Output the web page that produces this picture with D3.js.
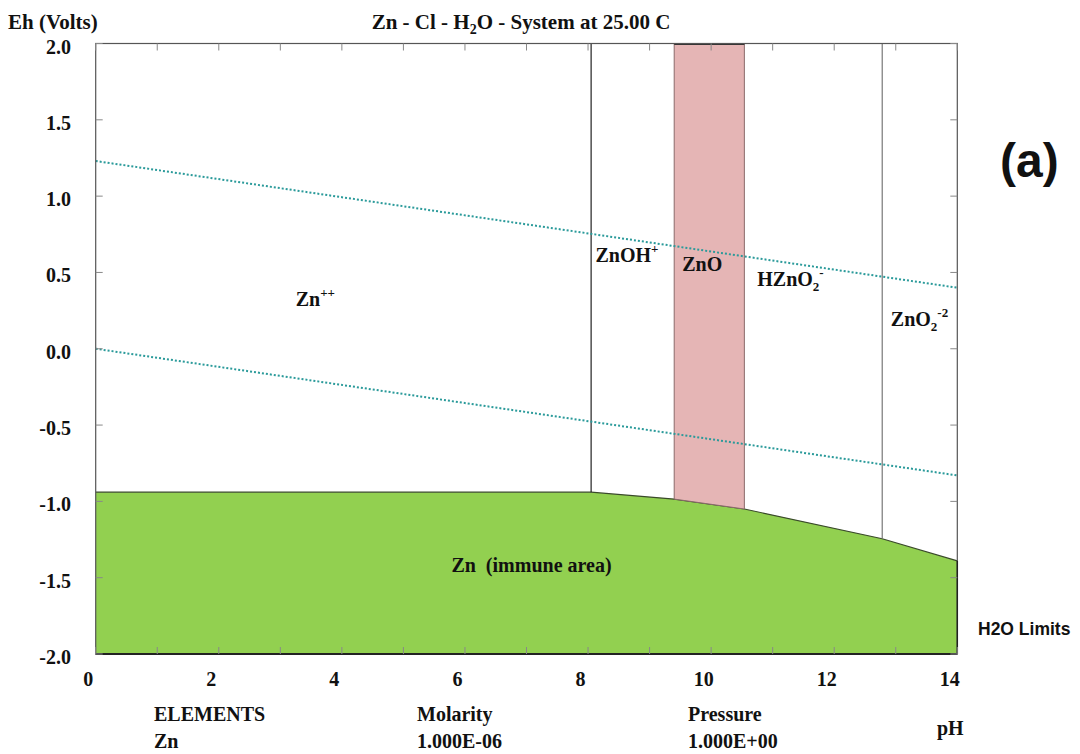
<!DOCTYPE html>
<html><head><meta charset="utf-8">
<script src="https://cdn.jsdelivr.net/npm/d3@7"></script>
<style>
body{margin:0;background:#fff;}
text{font-family:"Liberation Serif","Times New Roman",serif;font-weight:bold;fill:#111;}
</style></head>
<body><svg id="c" width="1080" height="754"></svg>
<script>
// ---- data ----
const xTickValues = [0,1,2,3,4,5,6,7,8,9,10,11,12,13,14];
const xTickLabels = [0,2,4,6,8,10,12,14];
const yTickValues = [2.0,1.5,1.0,0.5,0.0,-0.5,-1.0,-1.5,-2.0];
const immuneBoundary = [[0,-0.94],[8.05,-0.94],[9.40,-0.985],[10.54,-1.05],[12.78,-1.245],[14,-1.39]];
const boundaryLines = [8.05, 12.78];
const znoRange = [9.40, 10.54];
const waterUpper = [[0,1.23],[14,0.40]];
const waterLower = [[0,0.0],[14,-0.83]];
const regionLabels = [
  {x:3.25, y:0.28, base:"Zn", sup:"++"},
  {x:8.12, y:0.57, base:"ZnOH", sup:"+"},
  {x:9.53, y:0.51, base:"ZnO"},
  {x:10.75, y:0.41, base:"HZnO", sub:"2", sup:"-"},
  {x:12.92, y:0.15, base:"ZnO", sub:"2", sup:"-2"},
  {x:5.78, y:-1.46, base:"Zn\u00a0\u00a0(immune area)"}
];
const footerHeads = ["ELEMENTS","Molarity","Pressure"];
const footerVals = ["Zn","1.000E-06","1.000E+00"];

// ---- layout ----
const svg = d3.select("#c");
const L=95.7, R=957.3, T=43.5, B=654;
const x = d3.scaleLinear().domain([0,14]).range([L,R]);
const y = d3.scaleLinear().domain([-2,2]).range([B,T]);

// green immune area
const area = d3.area().x(d=>x(d[0])).y0(y(-2)).y1(d=>y(d[1]));
svg.append("path").datum(immuneBoundary).attr("d",area).attr("fill","#92d050");
svg.append("path").datum(immuneBoundary).attr("d",d3.line().x(d=>x(d[0])).y(d=>y(d[1])))
  .attr("fill","none").attr("stroke","#3a4a2a").attr("stroke-width",1.2);

function eb(p){for(let i=1;i<immuneBoundary.length;i++){const a=immuneBoundary[i-1],b=immuneBoundary[i];if(p<=b[0])return a[1]+(b[1]-a[1])*(p-a[0])/(b[0]-a[0]);}return immuneBoundary[immuneBoundary.length-1][1];}

// ZnO region
const zp=[[znoRange[0],2],[znoRange[1],2],[znoRange[1],eb(znoRange[1])],[znoRange[0],eb(znoRange[0])]];
svg.append("path").attr("d",d3.line().x(d=>x(d[0])).y(d=>y(d[1]))(zp)+"Z")
  .attr("fill","#e5b5b5").attr("stroke","#8a6a6a").attr("stroke-width",1);
svg.append("line").attr("x1",x(znoRange[0])).attr("x2",x(znoRange[1])).attr("y1",y(2)+0.5).attr("y2",y(2)+0.5)
  .attr("stroke","#333").attr("stroke-width",2);

// vertical boundaries
boundaryLines.forEach((p,i)=>{
  svg.append("line").attr("x1",x(p)).attr("x2",x(p)).attr("y1",y(2)).attr("y2",y(eb(p)))
    .attr("stroke",i===0?"#222":"#777").attr("stroke-width",1.2);
});

// water lines
[waterUpper,waterLower].forEach(w=>{
  svg.append("path").datum(w).attr("d",d3.line().x(d=>x(d[0])).y(d=>y(d[1])))
    .attr("fill","none").attr("stroke","#2a9a9a").attr("stroke-width",2).attr("stroke-dasharray","2,2");
});

// frame
svg.append("rect").attr("x",L).attr("y",T).attr("width",R-L).attr("height",B-T)
  .attr("fill","none").attr("stroke","#555").attr("stroke-width",1.2);
svg.append("line").attr("x1",L).attr("x2",R).attr("y1",B).attr("y2",B).attr("stroke","#222").attr("stroke-width",2);
svg.append("line").attr("x1",R).attr("x2",R).attr("y1",y(eb(14))).attr("y2",B).attr("stroke","#222").attr("stroke-width",1.5);

// ticks inward on all sides
const tk=7;
const ax=svg.append("g").attr("stroke","#888").attr("stroke-width",1);
xTickValues.forEach(v=>{
  ax.append("line").attr("x1",x(v)).attr("x2",x(v)).attr("y1",T).attr("y2",T+tk);
  ax.append("line").attr("x1",x(v)).attr("x2",x(v)).attr("y1",B).attr("y2",B-tk);
});
yTickValues.forEach(v=>{
  ax.append("line").attr("x1",L).attr("x2",L+tk).attr("y1",y(v)).attr("y2",y(v));
  ax.append("line").attr("x1",R).attr("x2",R-tk).attr("y1",y(v)).attr("y2",y(v));
});

// tick labels
svg.append("g").selectAll("text").data(xTickLabels).join("text")
  .attr("x",d=>x(d)-7.5).attr("y",B+32).attr("text-anchor","middle").attr("font-size",20).text(d=>d);
svg.append("g").selectAll("text").data(yTickValues).join("text")
  .attr("x",71).attr("y",d=>y(d)+10).attr("text-anchor","end").attr("font-size",20).text(d=>d.toFixed(1));

// axis titles
svg.append("text").attr("x",8).attr("y",29).attr("font-size",21).text("Eh (Volts)");
const tt=svg.append("text").attr("x",521).attr("y",29).attr("text-anchor","middle").attr("font-size",21);
tt.append("tspan").text("Zn - Cl - H");
tt.append("tspan").attr("font-size",14).attr("dy",5).text("2");
tt.append("tspan").attr("dy",-5).text("O - System at 25.00 C");

// region labels
regionLabels.forEach(r=>{
  const t=svg.append("text").attr("x",x(r.x)).attr("y",y(r.y)).attr("font-size",20);
  t.append("tspan").text(r.base);
  let dy=0;
  if(r.sub){t.append("tspan").attr("font-size",13).attr("dy",5).text(r.sub);dy=5;}
  if(r.sup){t.append("tspan").attr("font-size",13).attr("dy",-9-dy).text(r.sup);}
});

// (a) and H2O limits
svg.append("text").attr("x",1000).attr("y",177).style("font-family","'Liberation Sans',Arial,sans-serif")
  .attr("font-size",48).text("(a)");
svg.append("text").attr("x",978).attr("y",635).style("font-family","'Liberation Sans',Arial,sans-serif")
  .attr("font-size",17.5).text("H2O Limits");

// footer
const fx=[154,417,688];
footerHeads.forEach((h,i)=>svg.append("text").attr("x",fx[i]).attr("y",721).attr("font-size",20).text(h));
footerVals.forEach((h,i)=>svg.append("text").attr("x",fx[i]).attr("y",748).attr("font-size",20).text(h));
svg.append("text").attr("x",937).attr("y",735).attr("font-size",20).text("pH");
</script></body></html>
